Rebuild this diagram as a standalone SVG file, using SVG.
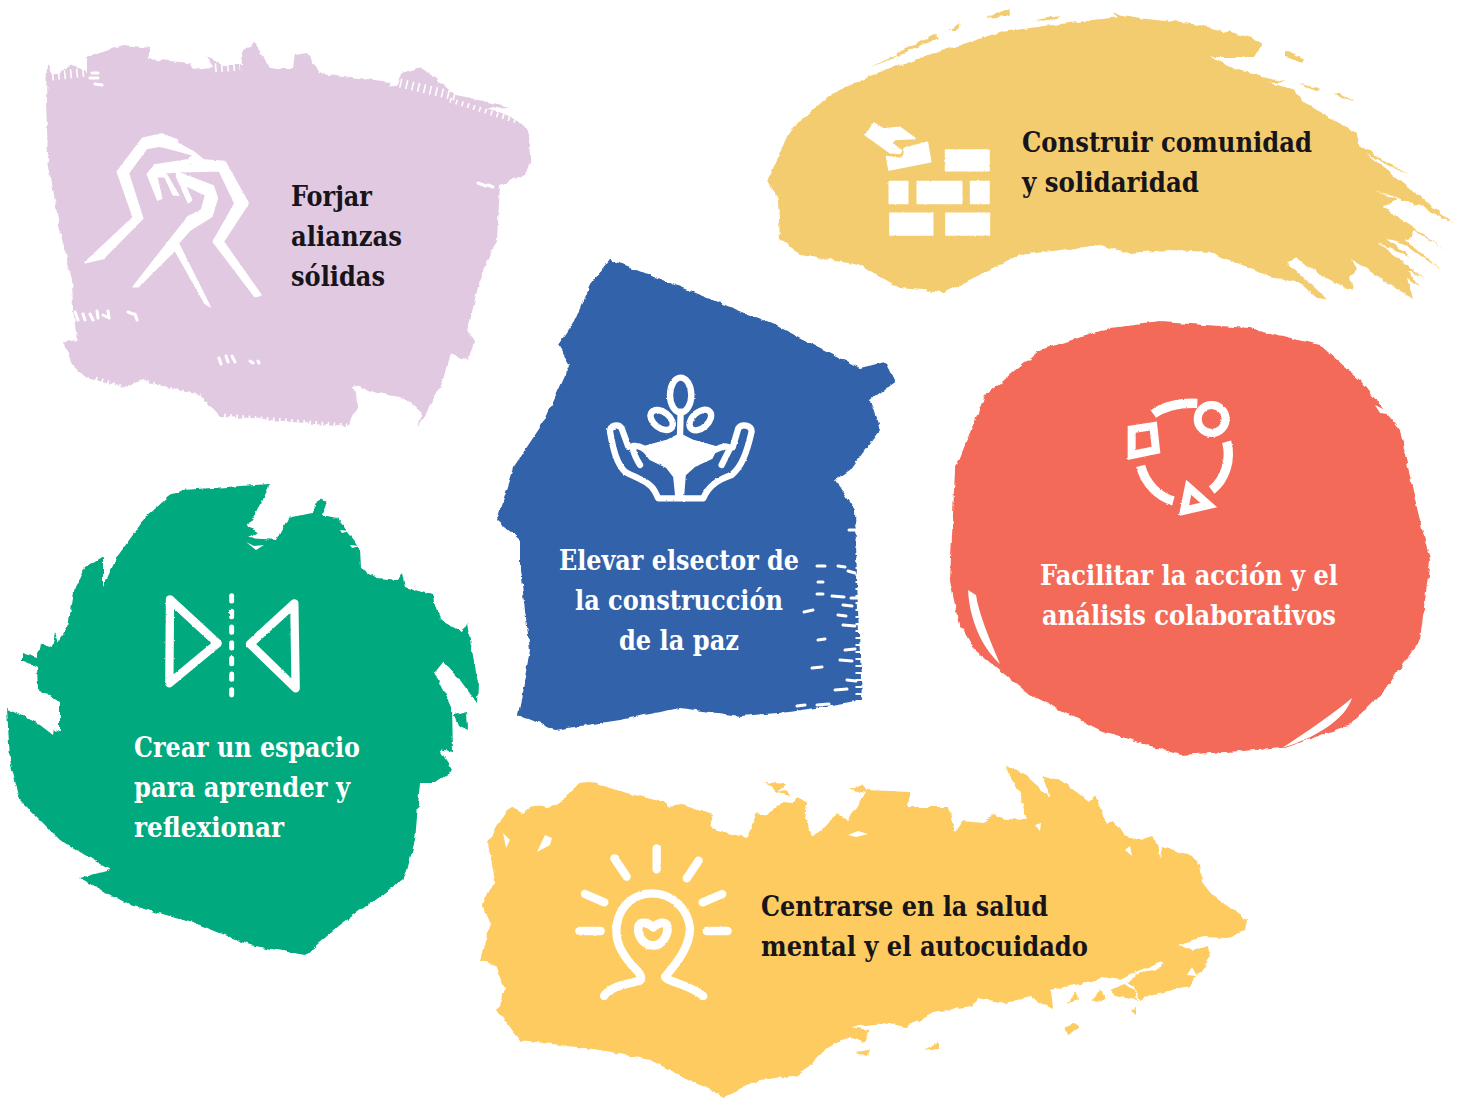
<svg xmlns="http://www.w3.org/2000/svg" width="1461" height="1098" viewBox="0 0 1461 1098">
<style>
.t{font-family:"DejaVu Serif Condensed","DejaVu Serif","Liberation Serif",serif;font-weight:700;font-size:27px}
.d{fill:#17151a}.w{fill:#fff}
.ic{fill:#fff;stroke:#fff;stroke-width:5;stroke-linejoin:round}
.ln{fill:none;stroke:#fff;stroke-linecap:round;stroke-linejoin:round}
.ct{fill:none;stroke:#fff;stroke-linejoin:miter}
.cb{fill:none;stroke:#fff;stroke-width:9;stroke-dasharray:1.6 4.5}
.sp{fill:none;stroke:#fff;stroke-width:3;stroke-linecap:round}
</style>
<defs>
<filter id="r" filterUnits="userSpaceOnUse" x="0" y="0" width="1461" height="1098"><feTurbulence type="fractalNoise" baseFrequency="0.11" numOctaves="3" seed="4"/><feDisplacementMap in="SourceGraphic" scale="5" xChannelSelector="R" yChannelSelector="G"/></filter>
<filter id="s" filterUnits="userSpaceOnUse" x="0" y="0" width="1461" height="1098"><feTurbulence type="fractalNoise" baseFrequency="0.35" numOctaves="2" seed="7"/><feDisplacementMap in="SourceGraphic" scale="2" xChannelSelector="R" yChannelSelector="G"/></filter>
</defs>
<rect width="1461" height="1098" fill="#fff"/>

<g id="node-forjar">
<g filter="url(#r)" fill="#e2c9e2">
<polygon points="47,63 53,75 73,65 87,72 87,57 103,52 123,45 150,48 148,59 190,63 193,69 213,67 207,57 223,65 243,65 242,52 255,43 270,68 293,68 295,55 307,53 320,73 390,82 388,88 398,85 402,73 420,67 457,95 510,107 487,108 523,123 530,135 531,160 525,175 500,185 497,240 487,262 477,290 468,330 475,342 468,360 450,353 443,380 418,428 422,413 405,398 377,393 353,385 358,407 347,427 250,418 220,417 207,403 200,395 163,387 143,380 127,388 87,378 73,367 63,342 77,340 73,310 72,280 60,230 48,160 46,100"/>
</g>
<g class="cb"><path d="M95 381L127 391L143 383L163 390L200 398"/><path d="M224 418L347 428"/><path d="M360 396L420 418"/><path d="M52 76L88 72"/><path d="M215 68L240 66"/><path d="M400 83L455 96"/><path d="M450 100L520 122" stroke-width="5"/></g>
<g class="sp"><path d="M75 312l3 8M83 314l2 6M90 314l3 6M97 311l1 7M103 315l4 2M108 311l1 7M128 312l5 2M135 314l2 6M219 358l2 6M226 356l2 6M232 356l3 6M250 361l3 2M258 361l1 2M92 73l6 0M90 78l8 0M95 84l7 1M488 185l5 2M478 183l8 3"/></g>
<g filter="url(#s)"><g class="ic" transform="translate(60 110) scale(.3333)">
<polygon points="75,458 220,322 172,185 248,85 305,72 352,90 352,100 400,125 430,150 380,155 400,135 300,108 260,115 205,190 248,325 130,445"/>
<polygon points="380,155 430,150 495,155 565,280 490,395 603,555 585,560 460,395 525,280 478,182 370,185 400,160"/>
<polygon points="262,192 285,165 380,150 400,180 300,190 320,195 355,255 340,255 315,200 290,200 305,265 293,270"/>
<polygon points="350,185 460,228 472,265 455,320 390,360 355,400 450,590 435,580 345,420 235,530 220,530 330,390 385,320 425,300 437,255 375,225 395,270 385,278 350,200"/>
</g></g>
<text class="t d" x="291" y="206" textLength="81" lengthAdjust="spacingAndGlyphs">Forjar</text>
<text class="t d" x="291" y="246" textLength="111" lengthAdjust="spacingAndGlyphs">alianzas</text>
<text class="t d" x="291" y="286" textLength="94" lengthAdjust="spacingAndGlyphs">sólidas</text>
</g>

<g id="node-construir">
<g filter="url(#r)" fill="#f4cc70">
<polygon points="768,180 790,130 830,95 880,72 945,50 1000,32 1060,24 1110,18 1130,17 1200,25 1227,32 1253,38 1262,45 1255,57 1210,57 1233,68 1262,77 1287,82 1268,83 1293,89 1303,102 1357,133 1358,145 1410,175 1367,154 1393,175 1453,223 1423,207 1375,190 1397,200 1383,207 1446,250 1413,230 1412,238 1405,239 1442,271 1410,248 1385,237 1410,257 1378,243 1425,279 1408,270 1419,286 1407,278 1413,299 1357,263 1330,243 1350,255 1357,270 1350,277 1353,290 1343,287 1307,267 1297,257 1287,262 1327,299 1317,298 1300,283 1270,277 1210,252 1170,250 1130,253 1100,245 1020,255 945,292 900,288 860,265 800,255 780,240 778,200"/>
<polygon points="870,68 935,34 938,38"/><polygon points="948,30 962,24 958,30"/><polygon points="985,18 1010,9 1008,16"/><polygon points="1035,20 1060,16 1050,21"/><polygon points="1112,13 1140,18 1120,20"/><polygon points="1286,50 1303,58 1302,63 1286,56"/><polygon points="1298,83 1322,90 1315,91"/><polygon points="1333,93 1355,100 1340,98"/>
</g>
<g filter="url(#s)"><g class="ic" transform="translate(850 110) scale(.3333)">
<rect x="287" y="120" width="130" height="62"/><rect x="118" y="215" width="55" height="65"/><rect x="202" y="215" width="133" height="65"/><rect x="362" y="215" width="55" height="65"/><rect x="120" y="310" width="128" height="65"/><rect x="288" y="310" width="130" height="65"/>
<polygon points="47,75 72,40 100,57 150,52 195,85 135,88 125,100 155,122 150,130 120,128"/>
<path d="M110 140L150 146Q168 140 162 116L232 97L242 155L117 180Z"/>
</g></g>
<text class="t d" x="1022" y="152" textLength="290" lengthAdjust="spacingAndGlyphs">Construir comunidad</text>
<text class="t d" x="1022" y="192" textLength="177" lengthAdjust="spacingAndGlyphs">y solidaridad</text>
</g>

<g id="node-elevar">
<g filter="url(#r)" fill="#3162aa">
<polygon points="610,260 625,265 700,295 775,325 860,368 885,362 895,382 870,400 880,430 850,470 835,480 855,510 858,610 862,700 790,712 740,716 680,708 620,720 555,730 518,715 530,650 520,570 520,540 497,520 515,465 545,420 570,365 558,345 575,320 590,285"/>
</g>
<path d="M859 525V712" fill="none" stroke="#fff" stroke-width="7" stroke-dasharray="2 5"/>
<g class="sp"><path d="M817 566h8M838 566l7 1M818 582h5M817 594h6M832 596l12 1M851 598h7M804 612l9-2M838 615l8 1M848 571l7 2M843 605l9 1M843 625l12 1M818 640l7-1M845 650l10-1M812 668l10-1M840 660l12 1M835 690l12-1M847 680l9 1M797 706l8-1M817 705l12-1M849 530h6"/></g>
<g filter="url(#s)"><g transform="translate(560 360) scale(.3333)">
<g class="ln" stroke-width="19">
<ellipse cx="362" cy="105" rx="32" ry="52"/>
<ellipse cx="305" cy="180" rx="38" ry="24" transform="rotate(38 305 180)"/>
<ellipse cx="421" cy="180" rx="38" ry="24" transform="rotate(-42 421 180)"/>
<path d="M362 155L360 230"/>
<path d="M205 260L185 205C175 190 150 195 150 215C160 270 170 310 195 335C230 355 270 365 285 395L295 415L430 415C445 380 470 360 515 345C545 320 560 280 575 215C575 195 545 190 535 205L518 262"/>
<path d="M240 315C225 290 215 270 220 258C240 255 255 265 270 285"/>
<path d="M485 315L510 265C500 255 485 260 465 270"/>
</g>
<polygon class="ic" points="360,222 400,242 472,262 455,295 405,318 375,345 370,410 348,410 342,350 320,322 270,298 246,262 320,242"/>
</g></g>
<text class="t w" x="559" y="570" textLength="240" lengthAdjust="spacingAndGlyphs">Elevar elsector de</text>
<text class="t w" x="575" y="610" textLength="208" lengthAdjust="spacingAndGlyphs">la construcción</text>
<text class="t w" x="619" y="650" textLength="120" lengthAdjust="spacingAndGlyphs">de la paz</text>
</g>

<g id="node-facilitar">
<g filter="url(#r)" fill="#f46a58">
<polygon points="950,580 955,470 985,395 1040,350 1110,328 1160,322 1250,328 1320,345 1360,380 1400,430 1415,500 1430,560 1420,640 1385,690 1350,725 1285,748 1180,755 1100,730 1030,695 975,650 958,620"/>
</g>
<g fill="#fff"><path d="M968 590C970 625 985 650 1000 664C990 640 979 615 976 595Z"/><path d="M1282 748C1310 730 1335 712 1352 698C1345 720 1315 738 1282 748Z"/><path d="M1375 405l20 10-15-2zM1420 505l6 8-6 6z"/></g>
<g filter="url(#s)"><g transform="translate(1110 390) scale(.3333)">
<g class="ct" stroke-width="24">
<polygon points="65,118 130,108 138,180 65,195"/>
<circle cx="305" cy="87" r="42"/>
<path d="M130 72C165 47 215 38 262 40" stroke-width="28"/>
<path d="M350 155C365 210 345 270 305 300" stroke-width="28"/>
<path d="M92 228C105 280 145 320 190 333" stroke-width="28"/>
<polygon points="236,292 296,345 222,362" stroke-width="24"/>
</g></g></g>
<text class="t w" x="1040" y="585" textLength="298" lengthAdjust="spacingAndGlyphs">Facilitar la acción y el</text>
<text class="t w" x="1042" y="625" textLength="294" lengthAdjust="spacingAndGlyphs">análisis colaborativos</text>
</g>

<g id="node-crear">
<g filter="url(#r)" fill="#04a97e">
<polygon points="270,484 257,513 247,527 260,532 248,538 277,540 288,518 312,513 320,498 327,502 322,515 337,518 348,532 360,548 361,568 377,578 398,580 402,573 405,587 432,595 440,620 462,632 467,623 478,683 477,703 460,680 443,662 435,672 452,707 453,753 440,750 452,770 435,782 420,782 415,840 405,878 340,925 305,955 250,945 200,925 130,905 80,878 110,870 60,840 20,800 10,760 7,709 17,713 37,723 60,732 60,702 38,690 37,668 22,660 22,653 37,658 40,643 52,648 55,632 58,643 68,627 75,587 85,567 103,556 103,587 117,557 145,518 168,497 183,490"/>
<polygon points="454,715 467,712 468,730 458,725"/><polygon points="248,938 268,940 262,946 250,944"/>
</g>
<path fill="#fff" d="M43 703L35 715L40 725L53 735L56 715L48 707ZM246 542l8 4 10-1-8 5zM340 530l10 1-8 2zM350 545l10 1-8 2z"/>
<g filter="url(#s)"><g transform="translate(150 580) scale(.3333)">
<g class="ln" stroke-width="25">
<polygon points="60,58 203,190 58,310"/>
<polygon points="433,70 300,192 437,325"/>
<path d="M245 47V348" stroke-width="15" stroke-dasharray="16 31"/>
</g></g></g>
<text class="t w" x="134" y="757" textLength="226" lengthAdjust="spacingAndGlyphs">Crear un espacio</text>
<text class="t w" x="134" y="797" textLength="216" lengthAdjust="spacingAndGlyphs">para aprender y</text>
<text class="t w" x="134" y="837" textLength="150" lengthAdjust="spacingAndGlyphs">reflexionar</text>
</g>

<g id="node-centrarse">
<g filter="url(#r)" fill="#fdcb60">
<polygon points="488,843 507,810 512,807 522,813 533,805 547,808 563,800 580,783 590,782 623,792 663,802 667,807 683,805 713,815 710,828 747,838 757,812 767,815 783,802 793,803 797,797 807,802 805,820 813,837 823,828 837,813 847,820 857,807 867,790 910,792 908,807 948,807 950,815 955,832 963,820 983,822 993,815 1007,819 1027,820 1020,793 1005,767 1023,773 1050,797 1042,775 1060,780 1090,802 1095,795 1107,825 1112,822 1118,827 1123,835 1143,840 1152,837 1157,843 1160,859 1162,847 1190,855 1198,860 1202,882 1212,895 1247,920 1245,930 1227,938 1203,937 1178,945 1193,950 1208,945 1210,958 1190,986 1172,990 1150,995 1140,1000 1135,987 1127,982 1137,973 1162,968 1163,962 1140,970 1120,980 1103,977 1092,982 1075,985 1050,990 1052,1008 1030,997 1005,1003 977,998 973,1007 933,1012 907,1027 883,1023 850,1027 870,1030 863,1043 850,1037 830,1045 800,1075 760,1080 725,1097 690,1080 650,1060 600,1050 520,1040 497,1010 505,990 495,965 480,960 490,925 482,905 495,880"/>
<polygon points="1091,1001 1100,990 1105,997 1104,1000"/><polygon points="1068,1003 1075,992 1079,1000"/><polygon points="1064,1030 1074,1022 1080,1028 1068,1035"/><polygon points="1110,990 1125,985 1135,990 1137,1000 1115,996"/><polygon points="1130,1010 1136,1008 1136,1015"/><polygon points="925,1050 938,1043 938,1048"/><polygon points="855,1052 870,1050 868,1056"/>
<polygon points="764,782 785,784 778,792"/><polygon points="777,792 785,790 790,795"/><polygon points="850,790 862,785 868,792"/>
</g>
<path fill="#fff" d="M503 833L510 840L506 848ZM537 852L545 835L552 838L550 845ZM710 820l6 3 0 5zM745 820l6 2-3 5zM1035 825l5 6 1-8zM1155 838l3 1-1 6zM1125 850l5-4 2 10zM848 835l10-4 10 3-12 3zM1187 975l5-8 5 9zM1015 1008l8-4 2 8zM985 1003l6-2 2 7zM950 1010l8-3 1 7zM920 1022l6-4 3 5zM890 1026l5-3 1 8zM835 1050l8-4 2 6zM800 1072l8-5 2 5zM775 1079l6-3 1 4z"/>
<g filter="url(#s)"><g transform="translate(560 840) scale(.3333)">
<g class="ln" stroke-width="25">
<path d="M290 25V88M163 55L200 110M416 62L380 115M75 162L133 187M487 162L428 187M58 273H122M440 273H503"/>
<path d="M132 468C150 440 190 435 240 422C250 410 235 395 215 375C180 335 165 300 170 255C180 190 230 160 275 160C340 160 385 210 390 265C390 320 350 370 315 410C320 425 380 430 430 468"/>
<path d="M280 316C250 318 232 285 235 262C240 240 265 248 280 262C295 248 320 240 322 262C325 285 305 318 280 316Z" stroke-width="26"/>
</g></g></g>
<text class="t d" x="761" y="916" textLength="287" lengthAdjust="spacingAndGlyphs">Centrarse en la salud</text>
<text class="t d" x="761" y="956" textLength="327" lengthAdjust="spacingAndGlyphs">mental y el autocuidado</text>
</g>
<g id="connectors"/>
</svg>
